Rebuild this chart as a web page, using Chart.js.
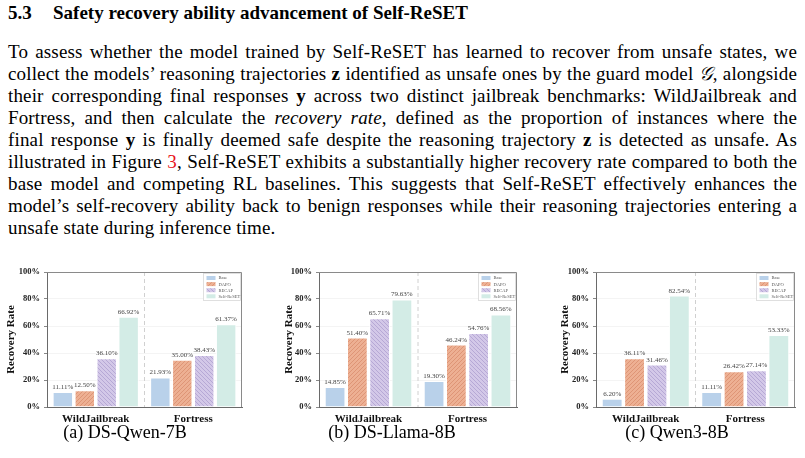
<!DOCTYPE html>
<html><head><meta charset="utf-8">
<script src="https://cdn.jsdelivr.net/npm/chart.js@4.4.0/dist/chart.umd.min.js"></script>
<style>
html,body{margin:0;padding:0;background:#fff;}
body{width:805px;height:458px;position:relative;overflow:hidden;font-family:"Liberation Serif","Times New Roman",serif;color:#000;}
.t{position:absolute;left:8px;top:2px;font-size:19px;line-height:22px;font-weight:bold;white-space:nowrap;}
.t span{display:inline-block;width:45px;}
.ln{position:absolute;left:8px;width:789px;font-size:19px;line-height:22px;letter-spacing:0.15px;text-align:justify;text-align-last:justify;}
.ln.last{text-align-last:left;}
.red{color:#e8141c;}
.cap{position:absolute;width:240px;text-align:center;font-size:18px;line-height:22px;top:421px;}
canvas{position:absolute;}
</style>
</head><body>
<div class="t"><span>5.3</span>Safety recovery ability advancement of Self-ReSET</div>
<div class="ln" style="top:41px">To assess whether the model trained by Self-ReSET has learned to recover from unsafe states, we</div>
<div class="ln" style="top:63px">collect the models’ reasoning trajectories <b>z</b> identified as unsafe ones by the guard model <i>𝒢</i>, alongside</div>
<div class="ln" style="top:85px">their corresponding final responses <b>y</b> across two distinct jailbreak benchmarks: WildJailbreak and</div>
<div class="ln" style="top:107px">Fortress, and then calculate the <i>recovery rate</i>, defined as the proportion of instances where the</div>
<div class="ln" style="top:129px">final response <b>y</b> is finally deemed safe despite the reasoning trajectory <b>z</b> is detected as unsafe. As</div>
<div class="ln" style="top:151px">illustrated in Figure <span class="red">3</span>, Self-ReSET exhibits a substantially higher recovery rate compared to both the</div>
<div class="ln" style="top:173px">base model and competing RL baselines. This suggests that Self-ReSET effectively enhances the</div>
<div class="ln" style="top:195px">model’s self-recovery ability back to benign responses while their reasoning trajectories entering a</div>
<div class="ln last" style="top:217px">unsafe state during inference time.</div>

<canvas id="c1" width="250" height="170" style="left:0px;top:262px"></canvas>
<canvas id="c2" width="250" height="170" style="left:272px;top:262px"></canvas>
<canvas id="c3" width="250" height="170" style="left:549px;top:262px"></canvas>
<div class="cap" style="left:5px">(a) DS-Qwen-7B</div>
<div class="cap" style="left:272px">(b) DS-Llama-8B</div>
<div class="cap" style="left:557px">(c) Qwen3-8B</div>

<script>
// ---- data ----
const categories = ['WildJailbreak', 'Fortress'];
const methods = ['Base', 'DAPO', 'RECAP', 'Self-ReSET'];
const yTickValues = [0, 20, 40, 60, 80, 100];
// values per method: [WildJailbreak, Fortress]
const dsQwen7B = [[11.11, 21.93], [12.50, 35.00], [36.10, 38.43], [66.92, 61.37]];
const dsLlama8B = [[14.85, 19.30], [51.40, 46.24], [65.71, 54.76], [79.63, 68.56]];
const qwen3_8B = [[6.20, 11.11], [36.11, 26.42], [31.46, 27.14], [82.54, 53.33]];

// ---- styles ----
function hatch(bg, fg, dir) {
  const s = 4;
  const c = document.createElement('canvas');
  c.width = s; c.height = s;
  const x = c.getContext('2d');
  x.fillStyle = bg; x.fillRect(0, 0, s, s);
  x.strokeStyle = fg; x.lineWidth = 0.9;
  x.beginPath();
  if (dir > 0) {
    x.moveTo(0, s); x.lineTo(s, 0);
    x.moveTo(-1, 1); x.lineTo(1, -1);
    x.moveTo(s - 1, s + 1); x.lineTo(s + 1, s - 1);
  } else {
    x.moveTo(0, 0); x.lineTo(s, s);
    x.moveTo(-1, s - 1); x.lineTo(1, s + 1);
    x.moveTo(s - 1, -1); x.lineTo(s + 1, 1);
  }
  x.stroke();
  return x.createPattern(c, 'repeat');
}
const fills = [
  '#b9d1ea',
  hatch('#edb093', '#dc9273', 1),
  hatch('#d3c8e8', '#b2a4d2', -1),
  '#d3ece6'
];
const edges = ['#ffffff', '#ffffff', '#ffffff', '#ffffff'];

const sepPlugin = {
  id: 'sep',
  beforeDatasetsDraw(chart) {
    const xs = chart.scales.x, a = chart.chartArea, ctx = chart.ctx;
    const x = (xs.getPixelForValue(0) + xs.getPixelForValue(1)) / 2;
    ctx.save();
    ctx.strokeStyle = '#d0d0d0'; ctx.lineWidth = 1; ctx.setLineDash([4, 3]);
    ctx.beginPath(); ctx.moveTo(x, a.top); ctx.lineTo(x, a.bottom); ctx.stroke();
    ctx.restore();
  }
};
const framePlugin = {
  id: 'frame',
  afterDraw(chart) {
    const a = chart.chartArea, ctx = chart.ctx;
    ctx.save();
    ctx.strokeStyle = '#8a8a8a'; ctx.lineWidth = 1;
    ctx.beginPath();
    ctx.moveTo(a.left, a.top + 0.5); ctx.lineTo(a.right - 0.5, a.top + 0.5); ctx.lineTo(a.right - 0.5, a.bottom);
    ctx.stroke();
    ctx.restore();
  }
};
const labelPlugin = {
  id: 'vals',
  afterDatasetsDraw(chart) {
    const ctx = chart.ctx;
    ctx.save();
    ctx.font = '7px "Liberation Serif", serif';
    ctx.fillStyle = '#444';
    ctx.textAlign = 'center'; ctx.textBaseline = 'alphabetic';
    chart.data.datasets.forEach((ds, i) => {
      chart.getDatasetMeta(i).data.forEach((el, j) => {
        ctx.fillText(ds.data[j].toFixed(2) + '%', el.x, el.y - 3);
      });
    });
    ctx.restore();
  }
};
const legendPlugin = {
  id: 'boxLegend',
  afterDraw(chart) {
    const ctx = chart.ctx, a = chart.chartArea;
    const w = 37, h = 27, x = a.right - w - 1.5, y = a.top + 1.5;
    ctx.save();
    ctx.fillStyle = '#fff'; ctx.fillRect(x, y, w, h);
    ctx.strokeStyle = '#d8d8d8'; ctx.lineWidth = 0.8; ctx.strokeRect(x, y, w, h);
    ctx.font = '4.5px "Liberation Serif", serif';
    ctx.textBaseline = 'middle'; ctx.textAlign = 'left';
    chart.data.datasets.forEach((ds, i) => {
      const ry = y + 4.5 + i * 6.1;
      ctx.fillStyle = ds.backgroundColor;
      ctx.fillRect(x + 3, ry - 2, 9, 4);
      ctx.fillStyle = '#555';
      ctx.fillText(ds.label, x + 15, ry + 0.3);
    });
    ctx.restore();
  }
};

function makeChart(id, values, padRight, titlePad) {
  new Chart(document.getElementById(id), {
    type: 'bar',
    data: {
      labels: categories,
      datasets: methods.map((m, i) => ({
        label: m,
        data: values[i],
        backgroundColor: fills[i],
        borderColor: edges[i],
        borderWidth: 1,
        categoryPercentage: 0.9,
        barPercentage: 0.93
      }))
    },
    options: {
      responsive: false,
      animation: false,
      devicePixelRatio: 1,
      layout: { padding: { top: 10, right: padRight, bottom: 0, left: 0 } },
      plugins: { legend: { display: false }, tooltip: { enabled: false } },
      scales: {
        x: {
          grid: { display: false, drawTicks: false },
          border: { display: true, color: '#6a6a6a', width: 1 },
          ticks: { font: { family: '"Liberation Serif", serif', size: 11, weight: 'bold' }, color: '#111', padding: 6 },
          afterFit(s) { s.height = 25; }
        },
        y: {
          min: 0, max: 100,
          afterBuildTicks(s) { s.ticks = yTickValues.map(v => ({ value: v })); },
          grid: { color: '#f1f1f1', lineWidth: 0.8, drawTicks: true, tickLength: 3, tickColor: '#6a6a6a' },
          border: { display: true, color: '#6a6a6a', width: 1 },
          ticks: { font: { family: '"Liberation Serif", serif', size: 8.5, weight: 'bold' }, color: '#222', padding: 4,
                   callback: v => v + '%' },
          title: { display: true, text: 'Recovery Rate', color: '#111',
                   font: { family: '"Liberation Serif", serif', size: 11, weight: 'bold' },
                   padding: { top: titlePad - 1, bottom: 0 } },
          afterFit(s) { s.width = 47; }
        }
      }
    },
    plugins: [sepPlugin, labelPlugin, framePlugin, legendPlugin]
  });
}
makeChart('c1', dsQwen7B, 8, 6);
makeChart('c2', dsLlama8B, 5, 12);
makeChart('c3', qwen3_8B, 4, 11);
</script>
</body></html>
